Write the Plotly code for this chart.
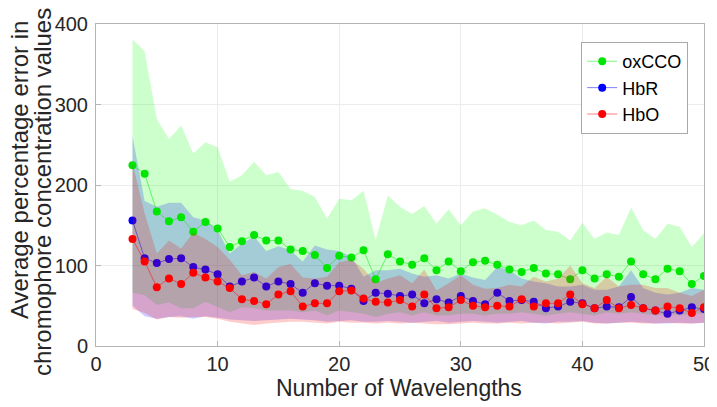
import plotly.graph_objects as go

n_wl = list(range(3, 51))

oxcco_mean = [224.5, 214, 167, 155, 160, 142, 154, 146, 123, 130, 138, 131, 131, 120, 118, 113, 97, 112, 110, 119,
              83, 114, 105, 101, 109, 94, 105, 93, 104, 106, 101, 95, 92, 97, 90, 89, 83, 94, 84, 89,
              86, 105, 89, 83, 96, 93, 77, 87]
hbr_mean = [156, 109, 103, 108, 109, 98, 95, 89, 74, 80, 85, 74, 80, 77, 66, 78, 75, 75, 71, 56,
            66, 65, 62, 64, 53, 58, 54, 62, 56, 52, 66, 56, 57, 55, 47, 49, 55, 53, 47, 49,
            48, 61, 47, 44, 40, 44, 48, 46]
hbo_mean = [133, 105, 73, 84, 77, 91, 85, 80, 72, 58, 56, 52, 64, 68, 49, 53, 53, 68, 69, 59,
            55, 54, 57, 49, 64, 47, 48, 57, 50, 48, 50, 49, 58, 49, 53, 53, 64, 52, 47, 57,
            47, 51, 47, 44, 49, 47, 41, 48]

oxcco_hi = [381, 366, 282, 257, 274, 239, 253, 247, 204, 212, 229, 212, 216, 195, 193, 185, 158, 183, 181, 193,
            132, 187, 173, 164, 174, 152, 170, 150, 167, 171, 163, 154, 150, 156, 144, 142, 131, 153, 133, 141,
            138, 172, 144, 133, 152, 148, 123, 140]
oxcco_lo = [66, 63, 51, 54, 47, 47, 55, 49, 42, 48, 47, 44, 44, 44, 42, 44, 38, 44, 42, 40,
            36, 40, 42, 38, 42, 38, 38, 40, 40, 38, 40, 40, 42, 40, 38, 40, 42, 40, 38, 42,
            40, 42, 40, 38, 40, 38, 40, 40]
hbr_hi = [261, 180, 173, 178, 178, 160, 156, 144, 115, 127, 136, 118, 124, 119, 105, 125, 120, 118, 111, 86,
          94, 94, 96, 90, 86, 88, 84, 90, 85, 82, 98, 94, 84, 80, 78, 74, 74, 76, 70, 70,
          74, 94, 72, 66, 64, 66, 72, 70]
hbr_lo = [50, 37, 34, 36, 37, 34, 37, 35, 33, 32, 31, 32, 33, 34, 33, 32, 30, 31, 32, 30,
          30, 31, 30, 29, 30, 31, 29, 30, 31, 30, 29, 30, 31, 29, 28, 30, 30, 31, 29, 28,
          29, 30, 29, 28, 28, 29, 28, 29]
hbo_hi = [227, 165, 115, 131, 121, 141, 133, 123, 107, 88, 92, 84, 98, 102, 85, 84, 86, 104, 107, 96,
          78, 84, 88, 78, 95, 69, 78, 88, 76, 71, 72, 76, 74, 86, 80, 84, 100, 78, 72, 86,
          74, 76, 76, 72, 72, 66, 62, 70]
hbo_lo = [46, 41, 33, 36, 35, 36, 36, 34, 30, 28, 26, 28, 29, 30, 30, 29, 28, 30, 29, 29,
          28, 29, 28, 29, 28, 27, 27, 28, 29, 28, 28, 29, 28, 29, 29, 28, 29, 30, 28, 28,
          29, 29, 28, 28, 29, 28, 28, 29]

x_ticks = [0, 10, 20, 30, 40, 50]
y_ticks = [0, 100, 200, 300, 400]
x_title = "Number of Wavelengths"
y_title_lines = ["Average percentage error in", "chromophore concentration values"]

fill_rgb = {"oxCCO": (0, 255, 0), "HbR": (0, 0, 255), "HbO": (255, 0, 0)}
mark_rgb = {"oxCCO": (0, 230, 0), "HbR": (0, 0, 255), "HbO": (255, 0, 0)}


def band(name, hi, lo):
    r, g, b = fill_rgb[name]
    return go.Scatter(x=n_wl + n_wl[::-1], y=hi + lo[::-1], fill="toself",
                      fillcolor=f"rgba({r},{g},{b},0.2)", line=dict(width=0),
                      mode="lines", hoverinfo="skip", showlegend=False)


def line(name, mean):
    r, g, b = mark_rgb[name]
    return go.Scatter(x=n_wl, y=mean, name=name, mode="lines+markers",
                      line=dict(color=f"rgba({r},{g},{b},0.5)", width=1),
                      marker=dict(color=f"rgb({r},{g},{b})", size=8))


fig = go.Figure()
fig.add_trace(band("oxCCO", oxcco_hi, oxcco_lo))
fig.add_trace(band("HbR", hbr_hi, hbr_lo))
fig.add_trace(line("oxCCO", oxcco_mean))
fig.add_trace(line("HbR", hbr_mean))
fig.add_trace(band("HbO", hbo_hi, hbo_lo))
fig.add_trace(line("HbO", hbo_mean))

font_fam = "Liberation Sans, Arial, Helvetica, sans-serif"
axis_common = dict(showline=True, linecolor="#b5b5b5", linewidth=1, mirror=True,
                   showgrid=True, gridcolor="#ececec", gridwidth=1, zeroline=False,
                   ticks="inside", ticklen=5, tickcolor="#b5b5b5", automargin=False,
                   tickfont=dict(size=20, color="#262626", family=font_fam))

annotations = [
    dict(text=x_title, xref="paper", yref="paper", x=0.498, y=0, yanchor="middle",
         xanchor="center", yshift=-42, showarrow=False, font=dict(size=23, color="#262626")),
    dict(text=y_title_lines[0], xref="paper", yref="paper", x=0, y=(346 - 170) / 322,
         xanchor="center", yanchor="middle", xshift=-77, textangle=-90, showarrow=False,
         font=dict(size=24, color="#262626")),
    dict(text=y_title_lines[1], xref="paper", yref="paper", x=0, y=(346 - 192) / 322,
         xanchor="center", yanchor="middle", xshift=-54, textangle=-90, showarrow=False,
         font=dict(size=24, color="#262626")),
]

# page body has an 8px margin; size/margins compensate so the plot lands at 96..704 x 24..346
fig.update_layout(
    width=709, height=399,
    margin=dict(l=88, r=13, t=16, b=61),
    plot_bgcolor="white", paper_bgcolor="white",
    font=dict(family=font_fam, color="#262626"),
    xaxis=dict(range=[0, 50], tickvals=x_ticks, **axis_common),
    yaxis=dict(range=[0, 400], tickvals=y_ticks, ticklabelstandoff=3, **axis_common),
    annotations=annotations,
    legend=dict(x=0.974, y=0.944, xanchor="right", yanchor="top",
                bgcolor="white", bordercolor="#a8a8a8", borderwidth=1,
                font=dict(size=18, color="#000000"), itemwidth=30, tracegroupgap=0),
    showlegend=True,
)

fig.write_html("out.html")
